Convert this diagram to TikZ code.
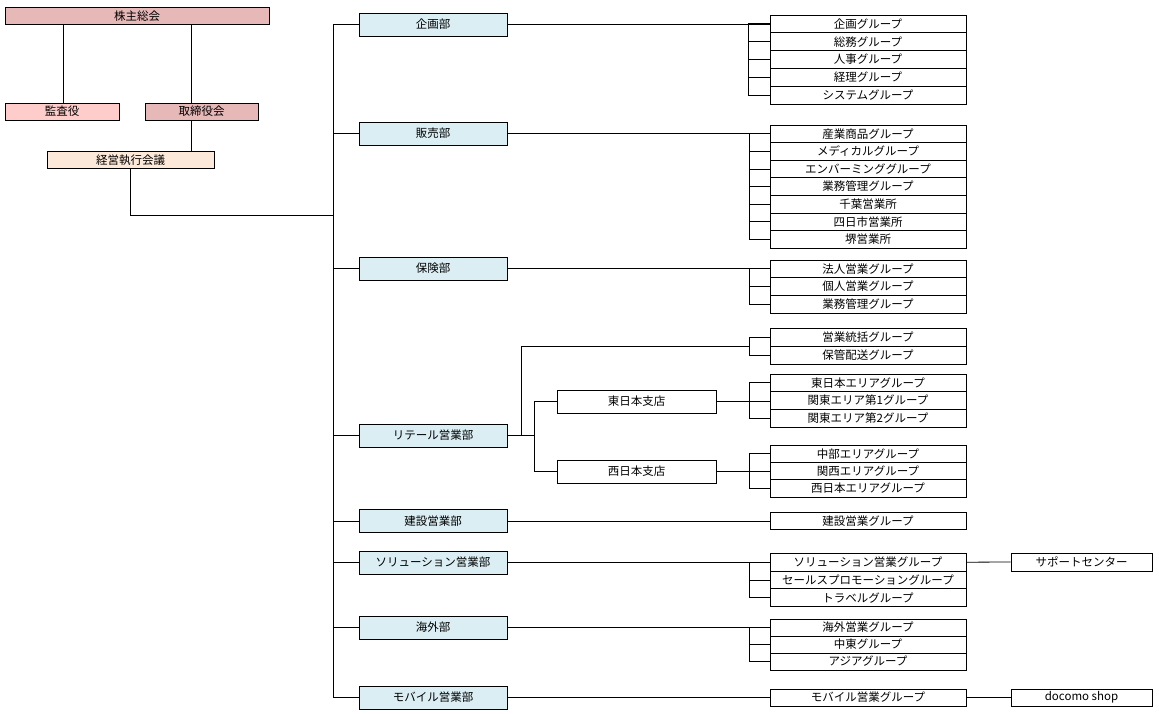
\documentclass[tikz,border=0pt]{standalone}
\usepackage{fontspec}
\setmainfont{Noto Sans CJK JP}
\definecolor{kabuc}{HTML}{E6B8B7}
\definecolor{kansac}{HTML}{FFCCCC}
\definecolor{keieic}{HTML}{FDE9D9}
\definecolor{deptc}{HTML}{DAEEF3}
\begin{document}
\begin{tikzpicture}[x=1pt,y=-1pt,
  every node/.style={font=\fontsize{11.5}{13}\selectfont, inner sep=0pt, draw=black, line width=0.8pt},
  topbox/.style={rectangle, minimum height=16.5pt},
  dept/.style={rectangle, fill=deptc, minimum width=148pt, minimum height=23pt},
  branch/.style={rectangle, fill=white, minimum width=159pt, minimum height=23pt},
  grp/.style={rectangle, fill=white, minimum width=196pt, minimum height=#1},
  grp/.default=17.7pt,
  ext/.style={rectangle, fill=white, minimum width=141pt, minimum height=#1},
  ext/.default=17.5pt,
  conn/.style={draw=black, line width=0.8pt}]
\useasboundingbox (0,0) rectangle (1159,714);
% top-left governance
\node[topbox, fill=kabuc, minimum width=264pt] (kabu) at (137,16) {株主総会};
\node[topbox, fill=kansac, minimum width=114pt, minimum height=17pt] (kansa) at (62,111.5) {監査役};
\node[topbox, fill=kabuc, minimum width=113pt, minimum height=17pt] (tori) at (201.5,111.5) {取締役会};
\node[topbox, fill=keieic, minimum width=167pt] (keiei) at (130.5,160) {経営執行会議};
\draw[conn] ([xshift=1pt]kansa.north) -- ([xshift=1pt]kansa.north |- kabu.south);
\draw[conn] ([xshift=-10.5pt]tori.north) -- ([xshift=-10.5pt]tori.north |- kabu.south);
\draw[conn] ([xshift=-10.5pt]tori.south) -- ([xshift=-10.5pt]tori.south |- keiei.north);
% departments
\node[dept] (kikaku) at (433,24.5) {企画部};
\node[dept] (hanbai) at (433,133.5) {販売部};
\node[dept] (hoken) at (433,268.5) {保険部};
\node[dept] (retail) at (433,435.5) {リテール営業部};
\node[dept] (kensetsu) at (433,521) {建設営業部};
\node[dept] (solution) at (433,562.5) {ソリューション営業部};
\node[dept] (kaigai) at (433,627.5) {海外部};
\node[dept] (mobile) at (433,697.5) {モバイル営業部};
% trunk
\coordinate (trunkj) at (334,215);
\draw[conn] (keiei.south) |- (trunkj);
\draw[conn] (kikaku.west) -- ++(-25,0) |- (mobile.west);
\foreach \d in {hanbai,hoken,retail,kensetsu,solution,kaigai}
  \draw[conn] (\d.west) -- ++(-25,0);
% 企画部 groups
\node[grp=17.8pt] (k1) at (868,23.9) {企画グループ};
\node[grp=17.8pt] (k2) at (868,41.7) {総務グループ};
\node[grp=17.8pt] (k3) at (868,59.5) {人事グループ};
\node[grp=17.8pt] (k4) at (868,77.3) {経理グループ};
\node[grp=17.8pt] (k5) at (868,95.1) {システムグループ};
\draw[conn] (kikaku.east) -- (kikaku.east -| k1.west);
\draw[conn] (k1.west) -- ++(-21,0) |- (k5.west);
\foreach \g in {k2,k3,k4} \draw[conn] (\g.west) -- ++(-21,0);
% 販売部 groups
\node[grp=17.6pt] (h1) at (868,133.8) {産業商品グループ};
\node[grp=17.6pt] (h2) at (868,151.4) {メディカルグループ};
\node[grp=17.6pt] (h3) at (868,169.0) {エンバーミンググループ};
\node[grp=17.6pt] (h4) at (868,186.6) {業務管理グループ};
\node[grp=17.6pt] (h5) at (868,204.2) {千葉営業所};
\node[grp=17.6pt] (h6) at (868,221.8) {四日市営業所};
\node[grp=17.6pt] (h7) at (868,239.4) {堺営業所};
\draw[conn] (hanbai.east) -- (hanbai.east -| h1.west);
\draw[conn] (h1.west) -- ++(-20,0) |- (h7.west);
\foreach \g in {h2,h3,h4,h5,h6} \draw[conn] (\g.west) -- ++(-20,0);
% 保険部 groups
\node[grp] (p1) at (868,268.8) {法人営業グループ};
\node[grp] (p2) at (868,286.5) {個人営業グループ};
\node[grp] (p3) at (868,304.2) {業務管理グループ};
\draw[conn] (hoken.east) -- (hoken.east -| p1.west);
\draw[conn] (p1.west) -- ++(-20,0) |- (p3.west);
\draw[conn] (p2.west) -- ++(-20,0);
% リテール営業部
\node[grp=18pt] (r1) at (868,337) {営業統括グループ};
\node[grp=18pt] (r2) at (868,355) {保管配送グループ};
\node[branch] (higashi) at (636.5,401.5) {東日本支店};
\node[branch] (nishi) at (636.5,471.5) {西日本支店};
\coordinate (rj1) at (521,435.5);
\coordinate (rj2) at (535,435.5);
\coordinate (rb) at (750,346.5);
\draw[conn] (retail.east) -- (rj2);
\draw[conn] (rj1) |- (rb);
\draw[conn] (r1.west) -- ++(-20,0) |- (r2.west);
\draw[conn] (higashi.west) -- ++(-22,0) |- (nishi.west);
\node[grp] (e1) at (868,382.8) {東日本エリアグループ};
\node[grp] (e2) at (868,400.5) {関東エリア第1グループ};
\node[grp] (e3) at (868,418.2) {関東エリア第2グループ};
\draw[conn] (higashi.east) -- (higashi.east -| e2.west);
\draw[conn] (e1.west) -- ++(-20,0) |- (e3.west);
\node[grp=17.4pt] (w1) at (868,453.7) {中部エリアグループ};
\node[grp=17.4pt] (w2) at (868,471.1) {関西エリアグループ};
\node[grp=17.4pt] (w3) at (868,488.5) {西日本エリアグループ};
\draw[conn] (nishi.east) -- (nishi.east -| w2.west);
\draw[conn] (w1.west) -- ++(-20,0) |- (w3.west);
% 建設営業部
\node[grp=17pt] (c1) at (868,521) {建設営業グループ};
\draw[conn] (kensetsu.east) -- (c1.west);
% ソリューション営業部
\node[grp] (s1) at (868,562.2) {ソリューション営業グループ};
\node[grp] (s2) at (868,579.9) {セールスプロモーショングループ};
\node[grp] (s3) at (868,597.6) {トラベルグループ};
\node[ext=18pt] (support) at (1081.5,562) {サポートセンター};
\draw[conn] (solution.east) -- (solution.east -| s1.west);
\draw[conn] (s1.west) -- ++(-20,0) |- (s3.west);
\draw[conn] (s2.west) -- ++(-20,0);
\draw[conn] (s1.east) -- (support.west);
% 海外部
\node[grp=17pt] (o1) at (868,627.5) {海外営業グループ};
\node[grp=17pt] (o2) at (868,644.5) {中東グループ};
\node[grp=17pt] (o3) at (868,661.5) {アジアグループ};
\draw[conn] (kaigai.east) -- (kaigai.east -| o1.west);
\draw[conn] (o1.west) -- ++(-20,0) |- (o3.west);
\draw[conn] (o2.west) -- ++(-20,0);
% モバイル営業部
\node[grp=17pt] (m1) at (868,697.5) {モバイル営業グループ};
\node[ext=17pt] (docomo) at (1081.5,697.5) {docomo shop};
\draw[conn] (mobile.east) -- (m1.west);
\draw[conn] (m1.east) -- (docomo.west);
\end{tikzpicture}
\end{document}
